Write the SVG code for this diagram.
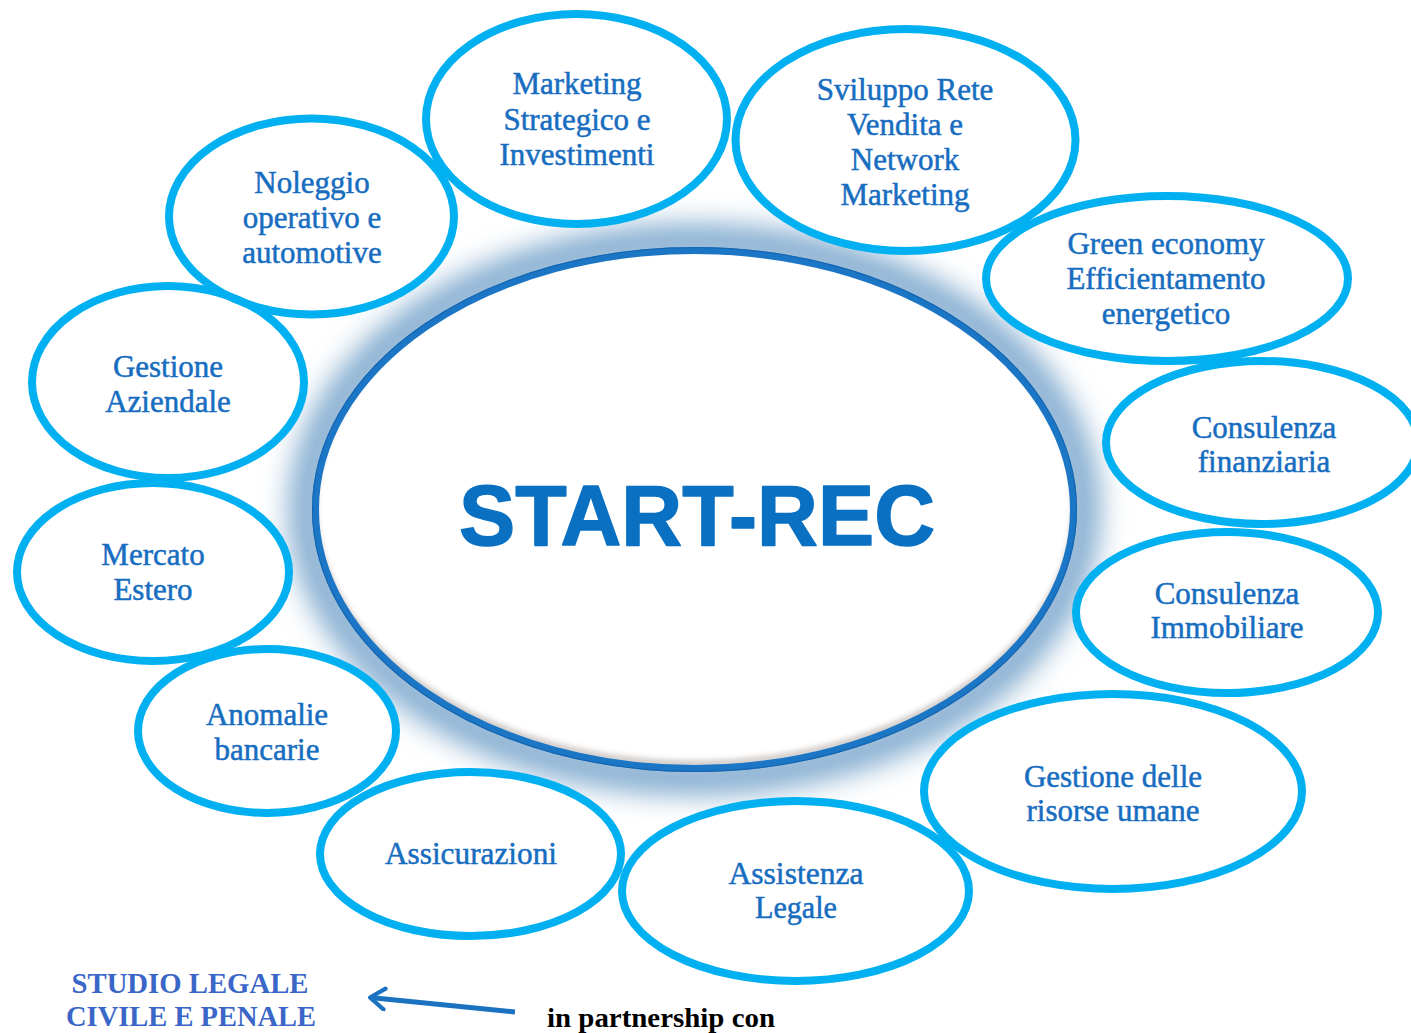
<svg xmlns="http://www.w3.org/2000/svg" width="1411" height="1033" viewBox="0 0 1411 1033">
<style>
.bub{fill:none;stroke:#00b0f0;stroke-width:8}
.bf{fill:#ffffff;stroke:none}
.lbl{font-family:"Liberation Serif","Times New Roman",serif;font-size:31px;fill:#176dbf;stroke:#176dbf;stroke-width:0.5;text-anchor:middle}
.bot{font-family:"Liberation Serif","Times New Roman",serif;font-weight:bold;text-anchor:middle}
</style>
<defs>
<filter id="glow" x="-20%" y="-20%" width="140%" height="140%">
<feGaussianBlur stdDeviation="14"/>
</filter>
<filter id="ish" x="-10%" y="-10%" width="120%" height="120%">
<feGaussianBlur stdDeviation="3"/>
</filter>
<clipPath id="inner"><ellipse cx="694.5" cy="509.5" rx="377" ry="257"/></clipPath>
<marker id="chev" viewBox="0 0 12 12" refX="10" refY="6" markerWidth="5" markerHeight="5" orient="auto" markerUnits="strokeWidth">
<polyline points="3,1 10,6 3,11" fill="none" stroke="#1a72c0" stroke-width="2" stroke-linecap="round" stroke-linejoin="round"/>
</marker>
</defs>
<rect width="1411" height="1033" fill="#ffffff"/>
<ellipse cx="694.5" cy="509.5" rx="388" ry="268" fill="none" stroke="#7ea8cd" stroke-width="34" filter="url(#glow)"/>
<g id="fills">
<ellipse class="bf" cx="576.5" cy="119" rx="150.5" ry="105"/>
<ellipse class="bf" cx="905.5" cy="140" rx="170" ry="111"/>
<ellipse class="bf" cx="311.5" cy="216.5" rx="142.5" ry="98"/>
<ellipse class="bf" cx="168" cy="382" rx="136" ry="96"/>
<ellipse class="bf" cx="153" cy="572" rx="136" ry="89"/>
<ellipse class="bf" cx="267" cy="731" rx="129" ry="82"/>
<ellipse class="bf" cx="470.5" cy="854" rx="150.5" ry="82"/>
<ellipse class="bf" cx="795.5" cy="891" rx="173.5" ry="90"/>
<ellipse class="bf" cx="1113" cy="791.5" rx="189" ry="97.5"/>
<ellipse class="bf" cx="1227" cy="612.5" rx="151" ry="80.5"/>
<ellipse class="bf" cx="1262" cy="442.5" rx="156" ry="81.5"/>
<ellipse class="bf" cx="1167" cy="278.5" rx="181" ry="82.5"/>
</g>
<g id="start-rec">
<ellipse cx="694.5" cy="509.5" rx="379" ry="259" fill="#ffffff"/>
<g clip-path="url(#inner)">
<ellipse cx="694.5" cy="505" rx="381" ry="259" fill="none" stroke="#9a8e86" stroke-width="5" filter="url(#ish)" opacity="0.7"/>
</g>
<ellipse cx="694.5" cy="509.5" rx="379" ry="259" fill="none" stroke="#1c76c6" stroke-width="7"/>
<ellipse cx="694.5" cy="509.5" rx="382" ry="262" fill="none" stroke="#1162ab" stroke-width="1.2" opacity="0.8"/>
<text x="697" y="545" font-family="'Liberation Sans',Arial,sans-serif" font-weight="bold" font-size="86" fill="#0a70c2" stroke="#0a70c2" stroke-width="1.5" stroke-linejoin="round" text-anchor="middle" textLength="476" lengthAdjust="spacingAndGlyphs">START-REC</text>
</g>
<g id="n-marketing">
<ellipse class="bub" cx="576.5" cy="119" rx="150.5" ry="105"/>
<text class="lbl" x="577" y="94">Marketing</text>
<text class="lbl" x="577" y="130">Strategico e</text>
<text class="lbl" x="577" y="165">Investimenti</text>
</g>
<g id="n-sviluppo">
<ellipse class="bub" cx="905.5" cy="140" rx="170" ry="111"/>
<text class="lbl" x="905" y="100">Sviluppo Rete</text>
<text class="lbl" x="905" y="135">Vendita e</text>
<text class="lbl" x="905" y="170">Network</text>
<text class="lbl" x="905" y="205">Marketing</text>
</g>
<g id="n-noleggio">
<ellipse class="bub" cx="311.5" cy="216.5" rx="142.5" ry="98"/>
<text class="lbl" x="312" y="193">Noleggio</text>
<text class="lbl" x="312" y="228">operativo e</text>
<text class="lbl" x="312" y="263">automotive</text>
</g>
<g id="n-gestione-aziendale">
<ellipse class="bub" cx="168" cy="382" rx="136" ry="96"/>
<text class="lbl" x="168" y="377">Gestione</text>
<text class="lbl" x="168" y="412">Aziendale</text>
</g>
<g id="n-mercato">
<ellipse class="bub" cx="153" cy="572" rx="136" ry="89"/>
<text class="lbl" x="153" y="565">Mercato</text>
<text class="lbl" x="153" y="600">Estero</text>
</g>
<g id="n-anomalie">
<ellipse class="bub" cx="267" cy="731" rx="129" ry="82"/>
<text class="lbl" x="267" y="725">Anomalie</text>
<text class="lbl" x="267" y="760">bancarie</text>
</g>
<g id="n-assicurazioni">
<ellipse class="bub" cx="470.5" cy="854" rx="150.5" ry="82"/>
<text class="lbl" x="471" y="864" textLength="172" lengthAdjust="spacingAndGlyphs">Assicurazioni</text>
</g>
<g id="n-assistenza">
<ellipse class="bub" cx="795.5" cy="891" rx="173.5" ry="90"/>
<text class="lbl" x="796" y="884" textLength="135" lengthAdjust="spacingAndGlyphs">Assistenza</text>
<text class="lbl" x="796" y="918" textLength="82" lengthAdjust="spacingAndGlyphs">Legale</text>
</g>
<g id="n-risorse">
<ellipse class="bub" cx="1113" cy="791.5" rx="189" ry="97.5"/>
<text class="lbl" x="1113" y="787">Gestione delle</text>
<text class="lbl" x="1113" y="821">risorse umane</text>
</g>
<g id="n-immobiliare">
<ellipse class="bub" cx="1227" cy="612.5" rx="151" ry="80.5"/>
<text class="lbl" x="1227" y="604">Consulenza</text>
<text class="lbl" x="1227" y="638">Immobiliare</text>
</g>
<g id="n-finanziaria">
<ellipse class="bub" cx="1262" cy="442.5" rx="156" ry="81.5"/>
<text class="lbl" x="1264" y="438">Consulenza</text>
<text class="lbl" x="1264" y="472">finanziaria</text>
</g>
<g id="n-green">
<ellipse class="bub" cx="1167" cy="278.5" rx="181" ry="82.5"/>
<text class="lbl" x="1166" y="254">Green economy</text>
<text class="lbl" x="1166" y="289">Efficientamento</text>
<text class="lbl" x="1166" y="324">energetico</text>
</g>
<g id="n-studio">
<text class="bot" x="190" y="993" font-size="30" fill="#3a66c8" textLength="237" lengthAdjust="spacingAndGlyphs">STUDIO LEGALE</text>
<text class="bot" x="191" y="1026" font-size="30" fill="#3a66c8" textLength="250" lengthAdjust="spacingAndGlyphs">CIVILE E PENALE</text>
</g>
<g id="n-partnership">
<text class="bot" x="661" y="1027" font-size="28" fill="#000000" textLength="228" lengthAdjust="spacingAndGlyphs">in partnership con</text>
</g>
<g id="connectors">
<line x1="515" y1="1012" x2="370" y2="997.5" stroke="#1a72c0" stroke-width="5" marker-end="url(#chev)"/>
</g>
</svg>
